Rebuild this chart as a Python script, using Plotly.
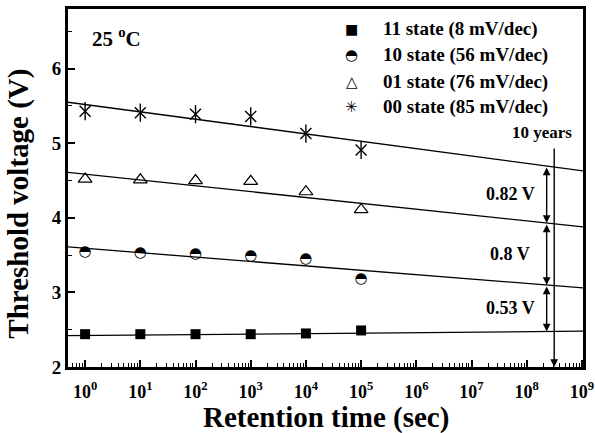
import plotly.graph_objects as go
import numpy as np

# ---- data ----
times = [1e0, 1e1, 1e2, 1e3, 1e4, 1e5]
v11 = [2.44, 2.44, 2.44, 2.44, 2.45, 2.49]
v10 = [3.54, 3.53, 3.51, 3.49, 3.45, 3.18]
v01 = [4.52, 4.51, 4.50, 4.49, 4.35, 4.11]
v00 = [5.43, 5.41, 5.39, 5.36, 5.13, 4.91]

fit_t = [10 ** -0.31, 10 ** 9.02]
fit11 = [2.42, 2.48]
fit10 = [3.61, 3.06]
fit01 = [4.61, 3.88]
fit00 = [5.55, 4.63]

labels = ["11 state (8 mV/dec)", "10 state (56 mV/dec)",
          "01 state (76 mV/dec)", "00 state (85 mV/dec)"]
gap_labels = ["0.82 V", "0.8 V", "0.53 V"]

ten_years = 3.15e8
arrow_t = 2.3e8

tick_vals = [10 ** k for k in range(10)]
tick_text = ["<b>10<sup>%d</sup></b>" % k for k in range(10)]
minor_vals = [m * 10 ** k for k in range(-1, 10) for m in range(2, 10)]

FONT = "Liberation Serif"
fig = go.Figure()

def fitline(y):
    fig.add_trace(go.Scatter(x=fit_t, y=y, mode="lines",
                             line=dict(color="black", width=1.3),
                             showlegend=False, hoverinfo="skip"))

for f in (fit11, fit10, fit01, fit00):
    fitline(f)

# 11 state: filled squares
fig.add_trace(go.Scatter(x=times, y=v11, mode="markers", name=labels[0],
                         marker=dict(symbol="square", size=10, color="black"),
                         showlegend=False))
# 10 state: half-filled circles (glyph)
fig.add_trace(go.Scatter(x=times, y=v10, mode="text", name=labels[1],
                         text=["\u25D3"] * len(times), textposition="middle center",
                         textfont=dict(family="DejaVu Sans", size=15, color="black"),
                         showlegend=False))
# 01 state: open triangles
fig.add_trace(go.Scatter(x=times, y=v01, mode="markers", name=labels[2],
                         marker=dict(symbol="triangle-up-open", size=12, color="black",
                                     line=dict(width=1.2, color="black")),
                         showlegend=False))
# 00 state: six-armed asterisk (x + vertical line)
fig.add_trace(go.Scatter(x=times, y=v00, mode="markers", name=labels[3],
                         marker=dict(symbol="x-thin-open", size=11, color="black",
                                     line=dict(width=1.4, color="black")),
                         showlegend=False))
fig.add_trace(go.Scatter(x=times, y=v00, mode="markers", showlegend=False,
                         marker=dict(symbol="line-ns-open", size=13, color="black",
                                     line=dict(width=1.4, color="black"))))

ann = []
# double arrows between fit lines at arrow_t
la = np.log10(arrow_t)
lf = np.log10(fit_t)
fits = [fit00, fit01, fit10, fit11]
levels = [float(np.interp(la, lf, f)) for f in fits]
for i in range(3):
    ann.append(dict(x=la, y=levels[i + 1], ax=la, ay=levels[i], xref="x", yref="y",
                    axref="x", ayref="y", showarrow=True, arrowhead=2, arrowside="end+start",
                    arrowsize=1.1, arrowwidth=1.4, arrowcolor="black", standoff=0,
                    startstandoff=0, text=""))
    ann.append(dict(x=la - 0.66, y=(levels[i] + levels[i + 1]) / 2, xref="x", yref="y",
                    xanchor="center", yanchor="middle",
                    text="<b>%s</b>" % gap_labels[i], showarrow=False,
                    font=dict(family=FONT, size=18, color="black")))

# 10 years line
lt = np.log10(ten_years)
ann.append(dict(x=lt, y=2.0, ax=lt, ay=4.95, xref="x", yref="y", axref="x", ayref="y",
                showarrow=True, arrowhead=2, arrowsize=1.1, arrowwidth=1.4,
                arrowcolor="black", standoff=0, text=""))
ann.append(dict(x=lt - 0.22, y=5.15, xref="x", yref="y", xanchor="center", yanchor="middle",
                text="<b>10 years</b>",
                showarrow=False, font=dict(family=FONT, size=17, color="black")))

# temperature
ann.append(dict(x=0.043, y=0.92, xref="paper", yref="paper", xanchor="left",
                yanchor="middle",
                text="<b>25 <sup>o</sup>C</b>", showarrow=False,
                font=dict(family=FONT, size=21, color="black")))

# legend
glyphs = ["\u25A0", "\u25D3", "\u25B3", "\u2733"]
gsize = [14, 15, 15, 15]
rows = [0.944, 0.872, 0.796, 0.726]
for g, s, lab, yy in zip(glyphs, gsize, labels, rows):
    ann.append(dict(x=0.551, y=yy, xref="paper", yref="paper", text=g, showarrow=False,
                    xanchor="center", yanchor="middle",
                    font=dict(family="DejaVu Sans", size=s, color="black")))
    ann.append(dict(x=0.607, y=yy, xref="paper", yref="paper", xanchor="left",
                    yanchor="middle",
                    text="<b>%s</b>" % lab, showarrow=False,
                    font=dict(family=FONT, size=19, color="black")))

# axis titles
ann.append(dict(x=-0.096, y=0.455, xref="paper", yref="paper", textangle=-90,
                xanchor="center", yanchor="middle",
                text="<b>Threshold voltage (V)</b>", showarrow=False,
                font=dict(family=FONT, size=29, color="black")))
ann.append(dict(x=0.5, y=-0.142, xref="paper", yref="paper",
                xanchor="center", yanchor="middle",
                text="<b>Retention time (sec)</b>", showarrow=False,
                font=dict(family=FONT, size=29, color="black")))

fig.update_layout(
    width=595, height=433,
    margin=dict(l=68, r=12, t=9, b=66),
    paper_bgcolor="white", plot_bgcolor="white",
    annotations=ann,
    showlegend=False,
    xaxis=dict(type="log", range=[-0.31, 9.02], tickmode="array",
               tickvals=tick_vals, ticktext=tick_text, automargin=False,
               ticks="inside", ticklen=7, tickwidth=2, tickcolor="black",
               ticklabelstandoff=6,
               minor=dict(ticks="inside", ticklen=4, tickwidth=1.3, tickcolor="black",
                          tickmode="array", tickvals=minor_vals),
               showline=True, linewidth=3, linecolor="black", mirror=True,
               showgrid=False, zeroline=False,
               tickfont=dict(family=FONT, size=18, color="black")),
    yaxis=dict(range=[2, 6.8], dtick=1, tick0=2, automargin=False,
               ticks="inside", ticklen=7, tickwidth=2, tickcolor="black",
               minor=dict(ticks="inside", ticklen=4, tickwidth=1.3, tickcolor="black",
                          dtick=0.5),
               showline=True, linewidth=3, linecolor="black", mirror=True,
               showgrid=False, zeroline=False,
               tickfont=dict(family=FONT, size=19, color="black"),
               tickprefix="<b>", ticksuffix="</b>"),
)

fig.write_html("out.html", config={"displayModeBar": False},
               post_script="document.body.style.margin='0';document.body.style.overflow='hidden';")
